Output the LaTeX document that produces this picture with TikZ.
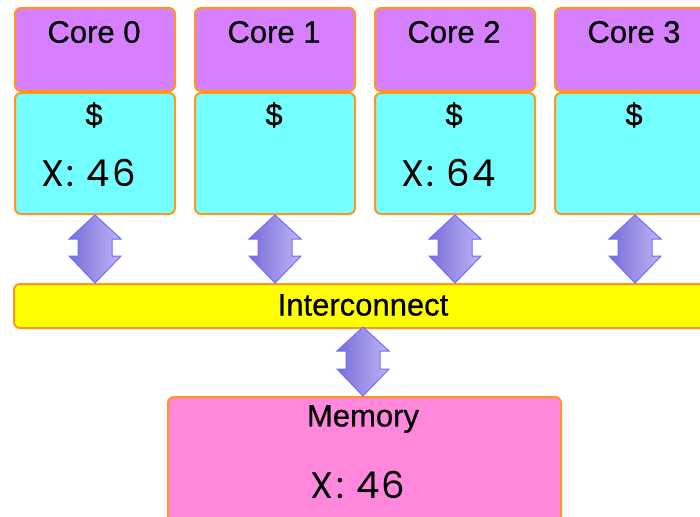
\documentclass[tikz,border=0pt]{standalone}
\usepackage{fontspec}
\setmainfont{Liberation Sans}
\newfontfamily\valfont[LetterSpace=6]{Poppins}
\newfontfamily\titlefont[FakeBold=0.6]{Liberation Sans}
\usetikzlibrary{calc}
\definecolor{corecol}{RGB}{214,128,255}
\definecolor{cachecol}{RGB}{115,255,255}
\definecolor{iccol}{RGB}{255,255,0}
\definecolor{memcol}{RGB}{255,136,221}
\definecolor{edgecol}{RGB}{255,150,30}
\definecolor{arrdark}{RGB}{120,110,215}
\definecolor{arrlight}{RGB}{190,180,245}
\definecolor{arredge}{RGB}{110,110,255}
\tikzset{
  boxbase/.style={draw=edgecol, line width=2pt, rounded corners=6pt, inner sep=0pt, anchor=north west},
  corebox/.style={boxbase, fill=corecol, minimum width=160pt, minimum height=83pt},
  cachebox/.style={boxbase, fill=cachecol, minimum width=160pt, minimum height=121pt},
  icbox/.style={boxbase, fill=iccol, minimum width=700pt, minimum height=44pt},
  membox/.style={boxbase, fill=memcol, minimum width=393pt, minimum height=150pt},
  title/.style={font=\titlefont\fontsize{31}{33}\selectfont, inner sep=0pt},
  val/.style={font=\valfont\fontsize{37}{39}\selectfont, inner sep=0pt},
  blockarr/.style={draw=arredge, line width=1pt, left color=arrdark, right color=arrlight, line join=miter}
}
\newcommand\blockarrow[2]{%
  \path[blockarr] let \p1=(#1), \p2=(#2) in
    (\x1,\y1) -- (\x1+26pt,\y1-24pt) -- (\x1+17pt,\y1-24pt) -- (\x1+17pt,\y2+27pt)
    -- (\x1+26pt,\y2+27pt) -- (\x1,\y2) -- (\x1-26pt,\y2+27pt) -- (\x1-17pt,\y2+27pt)
    -- (\x1-17pt,\y1-24pt) -- (\x1-26pt,\y1-24pt) -- cycle;}
\begin{document}
\begin{tikzpicture}[x=1pt,y=-1pt]
\useasboundingbox (0,0) rectangle (700,516);
\clip (0,0) rectangle (700,516);
\foreach \i in {0,1,2,3}{
  \node[corebox] (core\i) at (14+180*\i,7) {};
  \node[cachebox] (cache\i) at (14+180*\i,92) {};
  \node[title] (coret\i) at (94+180*\i,32) {Core \i};
  \node[title] (cachet\i) at (94+180*\i,115) {\$};
}
\node[val] (x0) at (88.5,173) {X:\,\,46};
\node[val] (x2) at (448.5,173) {X:\,\,64};
\node[icbox] (ic) at (13,283) {};
\node[title] (ict) at (363,305) {Interconnect};
\node[membox] (mem) at (167,396) {};
\node[title] (memt) at (363,419) {Memory};
\node[val] (memx) at (358,485) {X:\,\,46};
\foreach \i in {0,1,2,3}{
  \coordinate (ictop\i) at (cache\i.south |- ic.north);
  \blockarrow{cache\i.south}{ictop\i}
}
\coordinate (icb) at (363,327);
\coordinate (memtop) at (363,396);
\blockarrow{icb}{memtop}
\end{tikzpicture}
\end{document}
